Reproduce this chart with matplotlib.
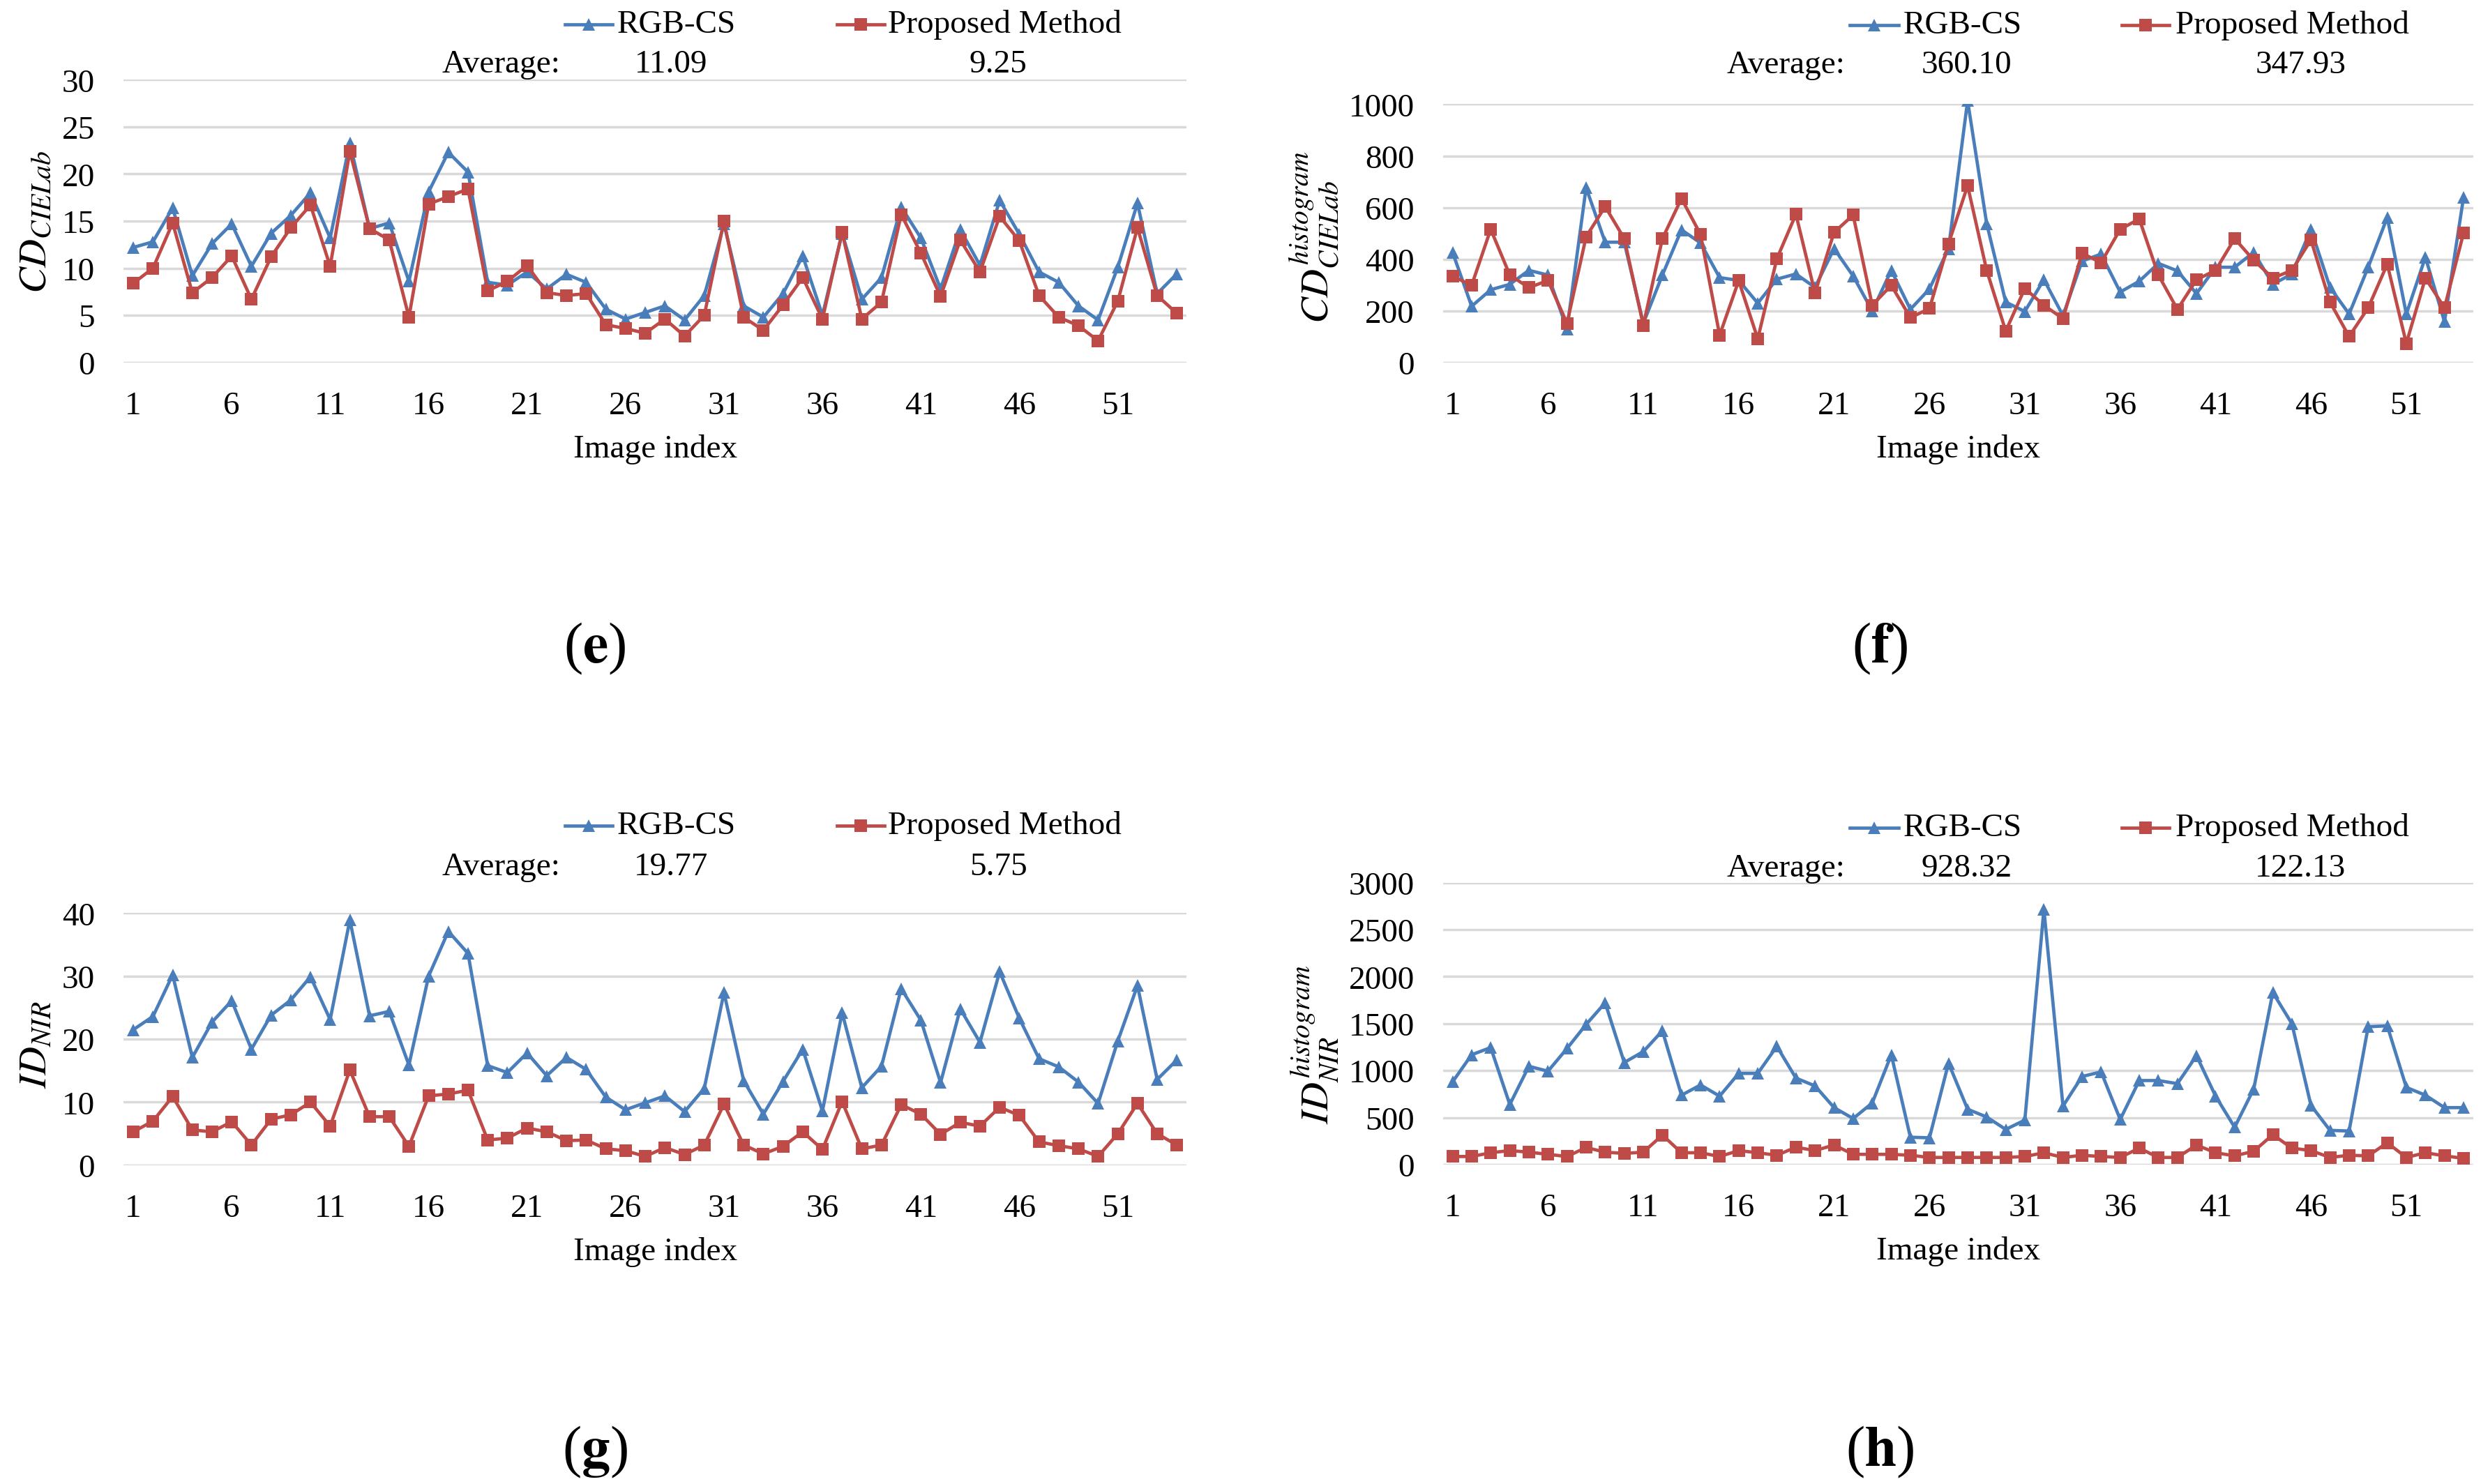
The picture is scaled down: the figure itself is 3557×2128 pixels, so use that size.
import matplotlib
matplotlib.use("Agg")
import matplotlib.pyplot as plt
from matplotlib.lines import Line2D
import numpy as np

plt.rcParams['font.family'] = ['Liberation Serif', 'DejaVu Serif']
plt.rcParams['mathtext.fontset'] = 'stix'

# ---------------- data ----------------
image_index = list(range(1, 55))
tick_labels = [1, 6, 11, 16, 21, 26, 31, 36, 41, 46, 51]
series_names = ["RGB-CS", "Proposed Method"]

e_rgbcs = [12.2, 12.8, 16.4, 9.2, 12.6, 14.7, 10.2, 13.7, 15.6, 18.0,
           13.2, 23.3, 14.2, 14.8, 8.6, 18.1, 22.3, 20.2, 8.5, 8.2,
           9.6, 7.8, 9.35, 8.5, 5.65, 4.6, 5.3, 6.0, 4.5, 7.1,
           14.7, 6.0, 4.8, 7.3, 11.3, 5.0, 13.7, 6.7, 9.0, 16.5,
           13.2, 7.8, 14.1, 10.3, 17.2, 13.6, 9.6, 8.5, 6.0, 4.5,
           10.1, 16.9, 7.3, 9.4]
e_proposed = [8.4, 10.0, 14.8, 7.4, 9.0, 11.3, 6.7, 11.2, 14.3, 16.7,
              10.2, 22.4, 14.2, 13.0, 4.8, 16.8, 17.6, 18.4, 7.6, 8.6,
              10.3, 7.4, 7.1, 7.3, 4.0, 3.6, 3.1, 4.6, 2.8, 5.0,
              15.0, 4.8, 3.4, 6.1, 9.0, 4.6, 13.8, 4.6, 6.4, 15.7,
              11.6, 7.0, 13.0, 9.6, 15.5, 12.9, 7.1, 4.8, 3.9, 2.3,
              6.5, 14.3, 7.1, 5.2]
e_avg = ["11.09", "9.25"]

f_rgbcs = [427, 218, 282, 303, 357, 339, 130, 677, 466, 466,
           152, 339, 514, 463, 329, 318, 230, 323, 343, 291,
           441, 335, 200, 357, 206, 285, 441, 1014, 538, 234,
           198, 321, 182, 393, 420, 273, 315, 384, 355, 267,
           369, 369, 427, 303, 343, 516, 291, 188, 369, 562,
           188, 408, 158, 640]
f_proposed = [335, 299, 516, 339, 290, 318, 152, 487, 604, 480,
              144, 480, 635, 496, 106, 317, 92, 402, 574, 269,
              504, 571, 222, 299, 174, 209, 460, 685, 357, 122,
              287, 222, 170, 423, 387, 516, 556, 339, 206, 321,
              357, 480, 396, 327, 357, 475, 234, 101, 212, 381,
              74, 327, 212, 502]
f_avg = ["360.10", "347.93"]

g_rgbcs = [21.5, 23.6, 30.2, 17.1, 22.7, 26.1, 18.4, 23.8, 26.2, 29.9,
           23.1, 38.9, 23.7, 24.4, 15.9, 30.0, 37.1, 33.6, 15.8, 14.7,
           17.8, 14.2, 17.1, 15.2, 10.8, 8.8, 9.9, 11.0, 8.5, 12.2,
           27.4, 13.4, 8.1, 13.3, 18.4, 8.6, 24.2, 12.3, 15.7, 28.0,
           23.0, 13.1, 24.8, 19.5, 30.7, 23.3, 16.9, 15.6, 13.2, 9.8,
           19.7, 28.5, 13.6, 16.7]
g_proposed = [5.3, 7.0, 10.9, 5.6, 5.3, 6.9, 3.2, 7.3, 8.0, 10.0,
              6.2, 15.1, 7.7, 7.7, 3.0, 11.0, 11.3, 11.9, 4.0, 4.3,
              5.9, 5.3, 3.9, 4.0, 2.6, 2.3, 1.4, 2.8, 1.7, 3.2,
              9.7, 3.2, 1.8, 3.0, 5.3, 2.5, 10.1, 2.6, 3.2, 9.6,
              8.1, 4.9, 6.8, 6.2, 9.2, 7.9, 3.7, 3.1, 2.6, 1.4,
              5.0, 9.8, 5.0, 3.2]
g_avg = ["19.77", "5.75"]

h_rgbcs = [880, 1168, 1245, 639, 1046, 993, 1235, 1490, 1721, 1086,
           1202, 1423, 738, 847, 728, 970, 970, 1258, 920, 837,
           606, 490, 655, 1168, 291, 285, 1079, 589, 506, 374,
           473, 2714, 622, 937, 986, 480, 894, 894, 861, 1159,
           728, 397, 804, 1830, 1499, 629, 364, 357, 1466, 1476,
           821, 738, 606, 606]
h_proposed = [86, 86, 126, 149, 132, 109, 86, 182, 132, 119,
              132, 314, 126, 126, 86, 149, 126, 99, 185, 149,
              208, 109, 109, 109, 99, 76, 76, 76, 76, 76,
              86, 126, 76, 99, 86, 76, 175, 76, 76, 208,
              126, 93, 142, 318, 175, 149, 76, 99, 93, 232,
              76, 126, 93, 66]
h_avg = ["928.32", "122.13"]

# ---------------- style ----------------
BLUE = "#4A7EBB"
RED = "#BE4B48"
GRID = "#D9D9D9"
FS = 15

W, H = 1568.0, 938.0
fig = plt.figure(figsize=(15.68, 9.385), dpi=226.85)


def fx(x):
    return x / W


def fy(y):
    return 1 - y / H


panels = [
    dict(rect=(78, 50.8, 750, 229.4), rgb=e_rgbcs, prop=e_proposed, avg=e_avg,
         ylim=(0, 30), yticks=np.arange(0, 31, 5),
         ylabel=r'$CD_{CIELab}$', ylab_xy=(23.0, 140),
         leg_y=15.7, avg_y=41.0, leg_x=(357, 387, 390, 529, 559, 561),
         avg_lab_x=354, avg_x=(424, 631), tag='e', tag_xy=(376, 410)),
    dict(rect=(912, 66.3, 1563, 229.5), rgb=f_rgbcs, prop=f_proposed, avg=f_avg,
         ylim=(0, 1000), yticks=np.arange(0, 1001, 200),
         ylabel=r'$CD_{CIELab}^{histogram}$', ylab_xy=(831, 150),
         leg_y=16.1, avg_y=41.3, leg_x=(1169, 1200, 1203, 1341, 1371, 1375),
         avg_lab_x=1166, avg_x=(1243, 1454), tag='f', tag_xy=(1188, 410)),
    dict(rect=(78, 577.3, 750, 736.6), rgb=g_rgbcs, prop=g_proposed, avg=g_avg,
         ylim=(0, 40), yticks=np.arange(0, 41, 10),
         ylabel=r'$ID_{NIR}$', ylab_xy=(23.0, 660),
         leg_y=522.0, avg_y=548.0, leg_x=(357, 387, 390, 529, 559, 561),
         avg_lab_x=354, avg_x=(424, 631), tag='g', tag_xy=(376, 917.5)),
    dict(rect=(912, 558.0, 1563, 736.2), rgb=h_rgbcs, prop=h_proposed, avg=h_avg,
         ylim=(0, 3000), yticks=np.arange(0, 3001, 500),
         ylabel=r'$ID_{NIR}^{histogram}$', ylab_xy=(831, 660),
         leg_y=523.3, avg_y=549.0, leg_x=(1169, 1200, 1203, 1341, 1371, 1375),
         avg_lab_x=1166, avg_x=(1243, 1454), tag='h', tag_xy=(1188, 917.5)),
]

for p in panels:
    x0, y0, x1, y1 = p['rect']
    ax = fig.add_axes([fx(x0), fy(y1), (x1 - x0) / W, (y1 - y0) / H])
    ax.plot(image_index, p['rgb'], color=BLUE, lw=1.5, marker='^', ms=5.5,
            markeredgewidth=0, zorder=3)
    ax.plot(image_index, p['prop'], color=RED, lw=1.5, marker='s', ms=5.5,
            markeredgewidth=0, zorder=4)
    ax.set_xlim(0.5, 54.5)
    ax.set_ylim(*p['ylim'])
    ax.set_yticks(p['yticks'])
    ax.set_xticks(tick_labels)
    ax.set_xticklabels([str(t) for t in tick_labels])
    ax.yaxis.grid(True, color=GRID, lw=1.1)
    ax.set_axisbelow(True)
    for s in ax.spines.values():
        s.set_visible(False)
    ax.tick_params(axis='both', length=0, labelsize=FS)
    ax.tick_params(axis='x', pad=13)
    ax.tick_params(axis='y', pad=13)
    ax.set_xlabel("Image index", fontsize=FS, labelpad=6)
    ax.patch.set_alpha(0)

    # y label
    lx, ly = p['ylab_xy']
    fig.text(fx(lx), fy(ly), p['ylabel'], rotation=90, ha='center', va='center',
             fontsize=18)

    # legend
    bl0, bl1, bt, rl0, rl1, rt = p['leg_x']
    yy = fy(p['leg_y'])
    fig.add_artist(Line2D([fx(bl0), fx(bl1)], [yy, yy], color=BLUE, lw=1.5,
                          transform=fig.transFigure))
    fig.add_artist(Line2D([fx((bl0 + bl1) / 2)], [yy], color=BLUE, marker='^',
                          ms=5.5, markeredgewidth=0, transform=fig.transFigure))
    fig.text(fx(bt), yy, series_names[0], ha='left', va='center', fontsize=FS)
    fig.add_artist(Line2D([fx(rl0), fx(rl1)], [yy, yy], color=RED, lw=1.5,
                          transform=fig.transFigure))
    fig.add_artist(Line2D([fx((rl0 + rl1) / 2)], [yy], color=RED, marker='s',
                          ms=5.5, markeredgewidth=0, transform=fig.transFigure))
    fig.text(fx(rt), yy, series_names[1], ha='left', va='center', fontsize=FS)

    # average row
    ay = fy(p['avg_y'])
    fig.text(fx(p['avg_lab_x']), ay, "Average:", ha='right', va='center', fontsize=FS)
    fig.text(fx(p['avg_x'][0]), ay, p['avg'][0], ha='center', va='center', fontsize=FS)
    fig.text(fx(p['avg_x'][1]), ay, p['avg'][1], ha='center', va='center', fontsize=FS)

    # panel tag
    tx, ty = p['tag_xy']
    fig.text(fx(tx), fy(ty), r'(' + r'$\mathbf{' + p['tag'] + r'}$' + r')',
             ha='center', va='center', fontsize=26)

fig.savefig("out.png", dpi=226.85, facecolor='white')
